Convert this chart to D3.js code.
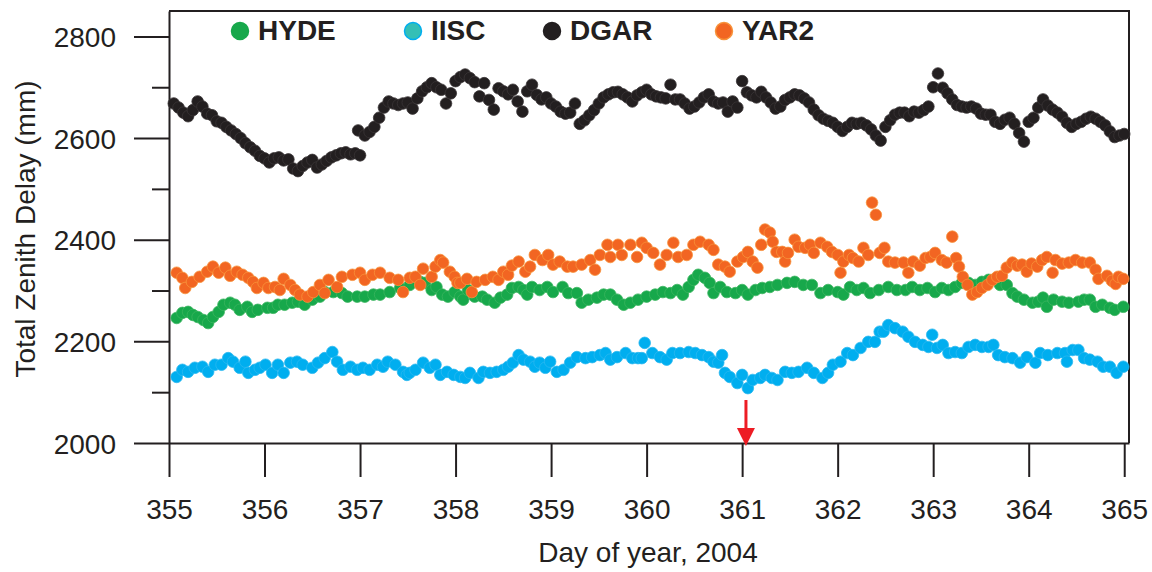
<!DOCTYPE html>
<html>
<head>
<meta charset="utf-8">
<script src="https://cdn.jsdelivr.net/npm/d3@7.9.0/dist/d3.min.js"></script>
<style>
  html, body { margin: 0; padding: 0; background: #fff; }
  svg { display: block; font-family: "Liberation Sans", Arial, sans-serif; }
</style>
</head>
<body>
<svg id="chart" width="1152" height="572"></svg>
<script>
// tick labels
let xTicks = [355, 356, 357, 358, 359, 360, 361, 362, 363, 364, 365];
let yMajor = [2000, 2200, 2400, 2600, 2800];
let yMinor = [2100, 2300, 2500, 2700];
let arrowDay = 361.04; // red arrow marks the event

// [day of year, total zenith delay in mm]
let hyde = [[355.08,2246],[355.14,2256],[355.2,2258],[355.25,2252],[355.3,2248],[355.36,2242],[355.41,2236],[355.46,2248],[355.52,2258],[355.57,2272],[355.64,2276],[355.69,2272],[355.74,2262],[355.82,2268],[355.87,2258],[355.93,2262],[356.03,2266],[356.09,2266],[356.14,2272],[356.21,2272],[356.29,2276],[356.35,2278],[356.42,2272],[356.5,2282],[356.58,2288],[356.63,2297],[356.72,2297],[356.81,2295],[356.87,2288],[356.97,2288],[357.05,2288],[357.14,2292],[357.21,2292],[357.31,2297],[357.42,2305],[357.52,2311],[357.63,2317],[357.68,2315],[357.75,2301],[357.8,2307],[357.86,2292],[357.92,2288],[357.99,2297],[358.05,2288],[358.08,2282],[358.13,2301],[358.2,2288],[358.28,2288],[358.33,2282],[358.41,2276],[358.47,2286],[358.54,2292],[358.59,2305],[358.66,2307],[358.71,2301],[358.75,2292],[358.8,2307],[358.88,2301],[358.96,2307],[359.02,2297],[359.12,2307],[359.18,2295],[359.27,2295],[359.32,2276],[359.39,2282],[359.48,2286],[359.55,2292],[359.62,2292],[359.69,2282],[359.76,2272],[359.83,2276],[359.91,2282],[360.0,2288],[360.09,2292],[360.17,2297],[360.25,2295],[360.32,2301],[360.38,2292],[360.44,2307],[360.49,2321],[360.54,2331],[360.61,2325],[360.66,2315],[360.7,2295],[360.77,2307],[360.84,2297],[360.93,2295],[361.0,2301],[361.06,2292],[361.14,2301],[361.21,2305],[361.29,2307],[361.37,2311],[361.47,2315],[361.55,2317],[361.64,2311],[361.73,2311],[361.82,2295],[361.9,2301],[362.0,2297],[362.06,2292],[362.13,2307],[362.2,2301],[362.27,2305],[362.34,2295],[362.43,2301],[362.53,2307],[362.62,2301],[362.71,2301],[362.78,2307],[362.86,2301],[362.94,2305],[363.02,2297],[363.09,2305],[363.16,2301],[363.23,2307],[363.3,2315],[363.37,2315],[363.44,2311],[363.51,2317],[363.58,2321],[363.65,2323],[363.7,2311],[363.77,2311],[363.83,2295],[363.88,2288],[363.95,2282],[364.04,2276],[364.1,2278],[364.15,2286],[364.19,2268],[364.26,2282],[364.35,2278],[364.42,2276],[364.52,2278],[364.58,2282],[364.64,2282],[364.7,2268],[364.77,2272],[364.85,2266],[364.9,2262],[364.99,2268]];

let iisc = [[355.08,2130],[355.14,2144],[355.2,2140],[355.27,2148],[355.35,2150],[355.41,2140],[355.48,2154],[355.55,2154],[355.62,2167],[355.67,2160],[355.74,2148],[355.8,2160],[355.83,2138],[355.9,2144],[355.95,2148],[356.01,2154],[356.08,2138],[356.14,2154],[356.2,2138],[356.27,2158],[356.34,2160],[356.4,2154],[356.5,2148],[356.56,2158],[356.63,2167],[356.71,2179],[356.76,2160],[356.82,2144],[356.9,2150],[356.97,2144],[357.03,2148],[357.1,2144],[357.18,2154],[357.24,2150],[357.29,2160],[357.37,2154],[357.45,2140],[357.49,2134],[357.52,2138],[357.58,2144],[357.66,2158],[357.73,2148],[357.79,2154],[357.84,2134],[357.91,2140],[357.98,2134],[358.05,2130],[358.1,2128],[358.15,2138],[358.24,2128],[358.29,2140],[358.36,2138],[358.43,2140],[358.5,2144],[358.55,2150],[358.6,2158],[358.66,2173],[358.71,2164],[358.78,2160],[358.83,2150],[358.88,2158],[358.94,2148],[358.99,2160],[359.06,2140],[359.13,2144],[359.2,2158],[359.27,2169],[359.36,2167],[359.43,2169],[359.51,2173],[359.57,2177],[359.62,2164],[359.69,2169],[359.78,2177],[359.85,2167],[359.91,2167],[359.95,2167],[359.98,2197],[360.06,2177],[360.14,2169],[360.21,2164],[360.27,2177],[360.35,2177],[360.44,2179],[360.51,2177],[360.58,2173],[360.65,2169],[360.7,2160],[360.75,2158],[360.79,2173],[360.82,2138],[360.87,2130],[360.95,2118],[361.0,2134],[361.06,2108],[361.11,2124],[361.19,2128],[361.24,2134],[361.31,2128],[361.37,2124],[361.45,2140],[361.52,2138],[361.59,2140],[361.68,2148],[361.75,2138],[361.84,2128],[361.9,2138],[361.95,2154],[362.03,2160],[362.1,2177],[362.16,2173],[362.24,2187],[362.32,2199],[362.39,2199],[362.44,2219],[362.48,2219],[362.53,2232],[362.6,2226],[362.68,2219],[362.74,2209],[362.81,2199],[362.89,2193],[362.95,2189],[362.99,2213],[363.04,2187],[363.1,2193],[363.16,2177],[363.23,2179],[363.3,2177],[363.37,2189],[363.44,2193],[363.51,2189],[363.58,2189],[363.63,2193],[363.68,2173],[363.75,2169],[363.83,2167],[363.91,2158],[363.98,2169],[364.07,2158],[364.12,2177],[364.2,2173],[364.3,2177],[364.38,2177],[364.4,2160],[364.46,2183],[364.52,2183],[364.58,2167],[364.64,2164],[364.72,2160],[364.78,2150],[364.85,2150],[364.92,2138],[364.99,2150]];

let dgar = [[355.05,2668],[355.1,2660],[355.15,2650],[355.2,2643],[355.25,2655],[355.3,2672],[355.35,2662],[355.4,2648],[355.45,2645],[355.5,2633],[355.55,2630],[355.6,2622],[355.65,2615],[355.7,2608],[355.75,2600],[355.8,2590],[355.85,2582],[355.9,2575],[355.95,2565],[356.0,2560],[356.05,2552],[356.1,2560],[356.15,2562],[356.2,2556],[356.25,2558],[356.3,2540],[356.35,2535],[356.4,2545],[356.45,2552],[356.5,2557],[356.55,2542],[356.6,2548],[356.65,2555],[356.7,2562],[356.75,2566],[356.8,2570],[356.85,2572],[356.9,2568],[356.95,2570],[356.98,2615],[357.0,2566],[357.05,2605],[357.1,2612],[357.15,2622],[357.2,2640],[357.25,2660],[357.3,2672],[357.35,2668],[357.4,2665],[357.45,2668],[357.5,2670],[357.55,2658],[357.6,2678],[357.65,2692],[357.7,2700],[357.75,2708],[357.8,2700],[357.85,2695],[357.9,2668],[357.95,2688],[358.0,2712],[358.05,2720],[358.1,2725],[358.15,2718],[358.2,2710],[358.25,2682],[358.3,2708],[358.35,2675],[358.4,2656],[358.45,2698],[358.5,2692],[358.55,2686],[358.6,2695],[358.65,2672],[358.7,2652],[358.75,2692],[358.8,2705],[358.85,2685],[358.9,2676],[358.95,2680],[359.0,2668],[359.05,2662],[359.1,2652],[359.15,2648],[359.2,2650],[359.25,2668],[359.3,2628],[359.35,2635],[359.4,2645],[359.45,2655],[359.5,2668],[359.55,2680],[359.6,2686],[359.65,2690],[359.7,2691],[359.75,2686],[359.8,2680],[359.85,2672],[359.9,2684],[359.95,2690],[360.0,2695],[360.05,2686],[360.1,2682],[360.15,2680],[360.2,2678],[360.25,2705],[360.3,2676],[360.35,2676],[360.4,2668],[360.45,2658],[360.5,2662],[360.55,2670],[360.6,2680],[360.65,2686],[360.7,2672],[360.75,2668],[360.8,2670],[360.85,2652],[360.9,2672],[360.95,2660],[361.0,2712],[361.05,2690],[361.1,2684],[361.15,2680],[361.2,2691],[361.25,2680],[361.3,2670],[361.35,2658],[361.4,2662],[361.45,2675],[361.5,2680],[361.55,2686],[361.6,2684],[361.65,2678],[361.7,2670],[361.75,2656],[361.8,2645],[361.85,2638],[361.9,2634],[361.95,2630],[362.0,2622],[362.05,2614],[362.1,2622],[362.15,2630],[362.2,2628],[362.25,2630],[362.3,2625],[362.35,2617],[362.4,2605],[362.45,2595],[362.5,2622],[362.55,2635],[362.6,2646],[362.65,2650],[362.7,2650],[362.75,2643],[362.8,2652],[362.85,2650],[362.9,2655],[362.95,2662],[363.0,2700],[363.05,2727],[363.1,2699],[363.15,2688],[363.2,2676],[363.25,2665],[363.3,2662],[363.35,2660],[363.4,2662],[363.45,2658],[363.5,2648],[363.55,2646],[363.6,2646],[363.65,2632],[363.7,2628],[363.75,2636],[363.8,2640],[363.85,2628],[363.9,2610],[363.95,2593],[364.0,2632],[364.05,2640],[364.1,2660],[364.15,2676],[364.2,2664],[364.25,2656],[364.3,2650],[364.35,2642],[364.4,2630],[364.45,2622],[364.5,2628],[364.55,2632],[364.6,2638],[364.65,2642],[364.7,2638],[364.75,2632],[364.8,2625],[364.85,2613],[364.9,2602],[364.95,2605],[365.0,2608]];

let yar2 = [[355.08,2335],[355.14,2325],[355.17,2305],[355.24,2317],[355.32,2327],[355.4,2337],[355.46,2347],[355.52,2335],[355.59,2345],[355.64,2329],[355.71,2337],[355.77,2331],[355.83,2325],[355.88,2317],[355.92,2305],[355.99,2315],[356.04,2305],[356.11,2307],[356.16,2301],[356.2,2323],[356.27,2311],[356.32,2301],[356.37,2292],[356.45,2288],[356.51,2297],[356.58,2311],[356.63,2295],[356.67,2321],[356.76,2307],[356.81,2327],[356.92,2331],[357.0,2335],[357.05,2321],[357.13,2331],[357.21,2335],[357.31,2325],[357.4,2321],[357.45,2297],[357.52,2325],[357.58,2327],[357.63,2311],[357.66,2343],[357.75,2327],[357.79,2347],[357.84,2360],[357.87,2355],[357.94,2337],[357.99,2327],[358.02,2315],[358.05,2315],[358.12,2323],[358.17,2297],[358.22,2317],[358.31,2321],[358.39,2327],[358.45,2321],[358.5,2337],[358.55,2331],[358.59,2349],[358.66,2357],[358.73,2337],[358.78,2347],[358.83,2370],[358.91,2360],[358.97,2370],[359.02,2351],[359.09,2357],[359.17,2347],[359.23,2347],[359.32,2351],[359.41,2360],[359.46,2341],[359.51,2370],[359.59,2390],[359.62,2366],[359.7,2390],[359.74,2370],[359.83,2390],[359.9,2366],[359.95,2394],[360.0,2384],[360.07,2374],[360.14,2351],[360.21,2370],[360.28,2394],[360.33,2366],[360.42,2370],[360.49,2390],[360.56,2396],[360.65,2390],[360.7,2380],[360.75,2351],[360.82,2347],[360.87,2337],[360.95,2357],[361.01,2366],[361.06,2376],[361.11,2357],[361.16,2345],[361.2,2390],[361.24,2420],[361.29,2414],[361.32,2396],[361.36,2376],[361.42,2376],[361.45,2357],[361.48,2374],[361.55,2400],[361.59,2386],[361.66,2384],[361.71,2390],[361.75,2374],[361.82,2394],[361.89,2386],[361.94,2376],[362.0,2370],[362.03,2335],[362.06,2357],[362.12,2370],[362.16,2364],[362.22,2357],[362.27,2384],[362.32,2370],[362.36,2473],[362.4,2449],[362.44,2374],[362.49,2384],[362.53,2357],[362.6,2355],[362.69,2355],[362.74,2335],[362.79,2357],[362.86,2349],[362.92,2364],[362.97,2366],[363.02,2374],[363.09,2360],[363.14,2355],[363.2,2406],[363.24,2364],[363.27,2347],[363.31,2327],[363.36,2311],[363.41,2292],[363.46,2297],[363.51,2305],[363.57,2311],[363.62,2321],[363.67,2327],[363.72,2329],[363.77,2345],[363.83,2355],[363.88,2349],[363.93,2351],[363.98,2337],[364.03,2353],[364.09,2347],[364.14,2360],[364.19,2366],[364.25,2335],[364.28,2360],[364.35,2353],[364.42,2355],[364.49,2360],[364.56,2355],[364.64,2355],[364.7,2341],[364.73,2323],[364.82,2329],[364.87,2319],[364.91,2313],[364.94,2327],[364.99,2323]];

// drawing order: orange ends up on top
let series = [
  { name: 'IISC', data: iisc, fill: '#00aeef', stroke: '#29b8f0' },
  { name: 'HYDE', data: hyde, fill: '#17a84b', stroke: '#3ab55e' },
  { name: 'DGAR', data: dgar, fill: '#231f20', stroke: '#3a3536' },
  { name: 'YAR2', data: yar2, fill: '#f26522', stroke: '#f7923a' }
];

let legendItems = [
  { name: 'HYDE', fill: '#17a84b', stroke: '#17a84b', x: 240 },
  { name: 'IISC', fill: '#34bfb6', stroke: '#00aeef', x: 413 },
  { name: 'DGAR', fill: '#231f20', stroke: '#231f20', x: 552 },
  { name: 'YAR2', fill: '#f26522', stroke: '#f7923a', x: 724 }
];

let ink = '#231f20';
let svg = d3.select('#chart');

let x = d3.scaleLinear().domain([355, 365.05]).range([169, 1129]);
let y = d3.scaleLinear().domain([2000, 2850]).range([443, 11]);

// frame: top and right edges
svg.append('path')
   .attr('d', `M${x(355)},${y(2850)}H${x(365.05)}V${y(2000)}`)
   .attr('fill', 'none')
   .attr('stroke', ink)
   .attr('stroke-width', 2);

// x axis with long outward ticks
let xAxis = svg.append('g')
   .attr('transform', `translate(0,${y(2000)})`)
   .call(d3.axisBottom(x).tickValues(xTicks).tickFormat(d3.format('d'))
      .tickSize(34).tickSizeOuter(0).tickPadding(22));

// y axis, major ticks with labels
let yAxis = svg.append('g')
   .attr('transform', `translate(${x(355)},0)`)
   .call(d3.axisLeft(y).tickValues(yMajor).tickFormat(d3.format('d'))
      .tickSize(35).tickSizeOuter(0).tickPadding(18));

// y axis, short minor ticks
svg.append('g')
   .attr('transform', `translate(${x(355)},0)`)
   .call(d3.axisLeft(y).tickValues(yMinor).tickFormat('').tickSize(17).tickSizeOuter(0))
   .select('.domain').remove();

svg.selectAll('.domain, .tick line')
   .attr('stroke', ink)
   .attr('stroke-width', 2);

svg.selectAll('.tick text')
   .attr('fill', ink)
   .style('font-size', '28px')
   .style('font-family', '"Liberation Sans", Arial, sans-serif');

yAxis.selectAll('.tick text').attr('dy', '0.36em');

// data points
series.forEach(s => {
  svg.append('g')
     .selectAll('circle')
     .data(s.data)
     .enter()
     .append('circle')
     .attr('cx', d => x(d[0]))
     .attr('cy', d => y(d[1]))
     .attr('r', 5.8)
     .attr('fill', s.fill)
     .attr('stroke', s.stroke)
     .attr('stroke-width', 0.8);
});

// red arrow
let ax = x(arrowDay);
svg.append('line')
   .attr('x1', ax).attr('x2', ax)
   .attr('y1', 400).attr('y2', 432)
   .attr('stroke', '#ed1c24')
   .attr('stroke-width', 3);
svg.append('path')
   .attr('d', `M${ax - 9},428L${ax + 9},428L${ax},446Z`)
   .attr('fill', '#ed1c24');

// legend
let legend = svg.append('g');
legend.selectAll('circle')
      .data(legendItems)
      .enter()
      .append('circle')
      .attr('cx', d => d.x)
      .attr('cy', 31)
      .attr('r', 8.5)
      .attr('fill', d => d.fill)
      .attr('stroke', d => d.stroke)
      .attr('stroke-width', 1.5);
legend.selectAll('text')
      .data(legendItems)
      .enter()
      .append('text')
      .attr('x', d => d.x + 18)
      .attr('y', 40)
      .attr('fill', ink)
      .style('font-size', '28px')
      .style('font-weight', 'bold')
      .text(d => d.name);

// axis titles
svg.append('text')
   .attr('x', 648)
   .attr('y', 562)
   .attr('text-anchor', 'middle')
   .attr('fill', ink)
   .style('font-size', '28px')
   .text('Day of year, 2004');

svg.append('text')
   .attr('transform', 'translate(35,229) rotate(-90)')
   .attr('text-anchor', 'middle')
   .attr('fill', ink)
   .style('font-size', '28px')
   .text('Total Zenith Delay (mm)');
</script>
</body>
</html>
